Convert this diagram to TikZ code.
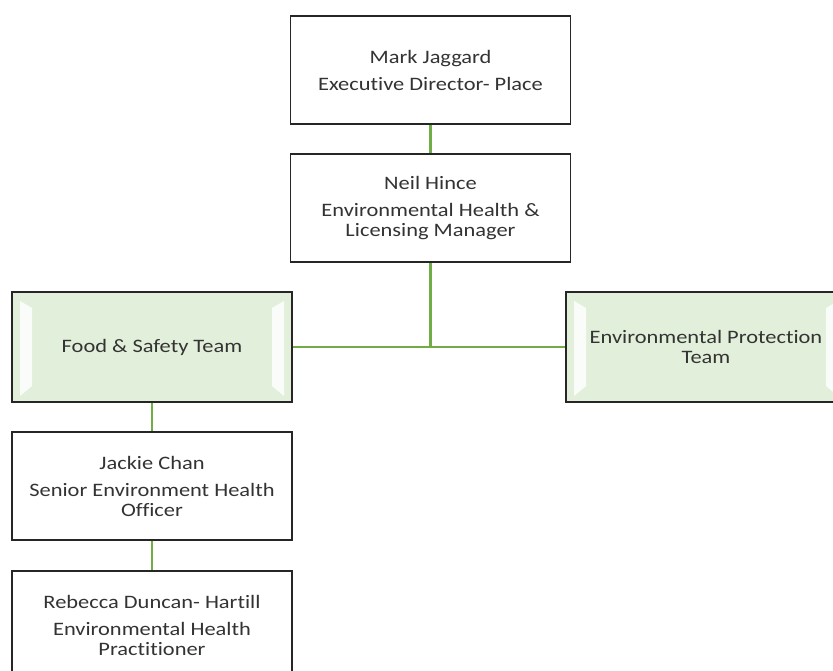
\documentclass[tikz,border=0pt]{standalone}
\usepackage{fontspec}
\setmainfont{Carlito}[FakeStretch=1.18, Ligatures={NoCommon}]
\usepackage{tikz}
\usetikzlibrary{positioning}
\definecolor{linkgreen}{HTML}{70AD47}
\definecolor{teamfill}{HTML}{E2EFDA}
\definecolor{boxline}{HTML}{262626}
\definecolor{textgray}{HTML}{333333}

\begin{document}
\begin{tikzpicture}[x=1pt, y=-1pt,
    every node/.style={rectangle, draw=boxline, line width=1.6pt, fill=white, minimum width=280pt, minimum height=108pt, inner sep=0pt, align=center, text=textgray, font=\fontsize{19}{20}\selectfont},
    teambox/.style={fill=teamfill, minimum height=110pt, path picture={
        \fill[white, opacity=0.85] ([xshift=8pt,yshift=-9pt]path picture bounding box.north west) -- ([xshift=20pt,yshift=-16pt]path picture bounding box.north west) -- ([xshift=20pt,yshift=16pt]path picture bounding box.south west) -- ([xshift=8pt,yshift=6pt]path picture bounding box.south west) -- cycle;
        \fill[white, opacity=0.85] ([xshift=-8pt,yshift=-9pt]path picture bounding box.north east) -- ([xshift=-20pt,yshift=-16pt]path picture bounding box.north east) -- ([xshift=-20pt,yshift=16pt]path picture bounding box.south east) -- ([xshift=-8pt,yshift=6pt]path picture bounding box.south east) -- cycle;
    }},
    link/.style={draw=linkgreen, line width=2.6pt}]
        \useasboundingbox (0,0) rectangle (833,671);
        \clip (0,0) rectangle (833,671);
        \node (mark) at (430.5,70) {Mark Jaggard\\[7pt]Execut\kern0pt ive Director- Place};
        \node (neil) at (430.5,208) {Neil Hince\\[7pt]Environmental Health \&\\Licensing Manager};
        \node[teambox] (food) at (152,347) {Food \& Safety Team};
        \node[teambox] (envpro) at (706,347) {Environmental Protection\\Team};
        \node (jackie) at (152,486) {Jackie Chan\\[7pt]Senior Environment Health\\Officer};
        \node (rebecca) at (152,625) {Rebecca Duncan- Hartill\\[7pt]Environmental Health\\Pract\kern0pt it\kern0pt ioner};
        \coordinate (junction) at (neil |- food);
        \draw[link] (mark) -- (neil);
        \draw[link] (neil) -- (junction);
        \draw[link] (food) -- (envpro);
        \draw[link] (food) -- (jackie);
        \draw[link] (jackie) -- (rebecca);
    \end{tikzpicture}
\end{document}
